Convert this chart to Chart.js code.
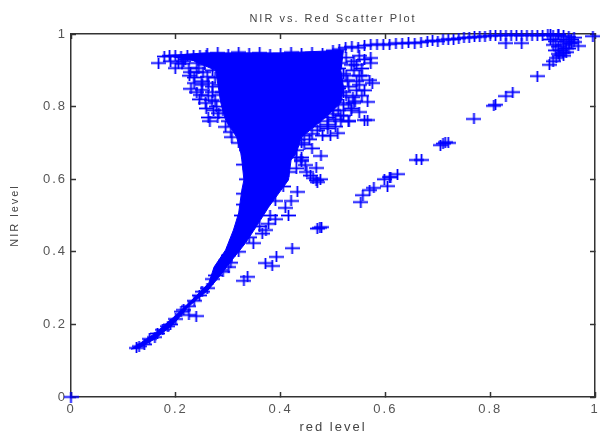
<!DOCTYPE html>
<html>
<head>
<meta charset="utf-8">
<title>NIR vs. Red Scatter Plot</title>
<script src="https://cdn.jsdelivr.net/npm/chart.js@4"></script>
<style>
  html, body { margin: 0; padding: 0; background: #fff; }
  #wrap { width: 600px; height: 432px; }
  canvas { filter: blur(0.35px); }
</style>
</head>
<body>
<div id="wrap"><canvas id="scatterChart" width="600" height="432"></canvas></div>
<script>
// outline of the region where the crosses merge into solid blue
const coreRed = [.178,.257,.30,.40,.52,.515,.52,.515,.48,.44,.43,.42,.415,.401,.377,.358,.333,.307,.282,.262,.225,.195,.16,.13,.115,.16,.2,.24,.263,.273,.295,.31,.32,.326,.33,.326,.324,.316,.295,.286,.276,.235];
const coreNir = [.94,.948,.948,.948,.955,.90,.854,.81,.763,.716,.672,.653,.598,.57,.523,.479,.424,.377,.33,.295,.25,.2,.16,.135,.132,.175,.225,.28,.314,.358,.405,.46,.507,.57,.598,.653,.672,.716,.763,.81,.90,.925];

const leftRed = [.167,.178,.188,.199,.21,.222,.234,.246,.258,.199,.212,.225,.244,.235,.25,.26,.229,.25,.248,.24,.257,.269,.286,.282,.295,.307,.272,.262,.24,.226,.215,.205,.19,.27,.278,.252,.265,.235,.25,.262,.27,.262,.275,.24,.255,.27,.275,.285,.29,.28,.29,.3,.305,.245,.258,.218,.228];
const leftNir = [.92,.938,.94,.94,.938,.94,.942,.94,.942,.906,.918,.906,.906,.865,.846,.882,.849,.87,.832,.84,.81,.818,.832,.782,.744,.716,.79,.77,.895,.885,.925,.92,.925,.855,.80,.895,.76,.88,.86,.865,.84,.83,.815,.92,.915,.90,.88,.86,.84,.77,.79,.76,.73,.82,.795,.93,.895];

const rightRed = [.509,.477,.468,.56,.538,.528,.54,.55,.52,.53,.51,.56,.572,.572,.57,.575,.566,.566,.55,.53,.515,.50,.49,.48,.455,.445,.47,.49,.51,.525,.545,.555,.56,.542,.535,.52,.505,.495,.46,.44,.43,.45,.462,.468,.47,.476,.457,.432,.439,.447,.409,.377,.372,.348,.301,.42,.415,.39,.365,.505,.515,.525,.54,.55,.555,.51,.52,.535,.545,.5,.515,.53,.545,.555,.51,.525,.54,.495,.505,.52,.535,.55,.5,.515,.53,.49,.505,.475,.49,.46,.445,.44,.43];
const rightNir = [.727,.664,.631,.763,.826,.873,.90,.885,.84,.81,.79,.93,.934,.92,.873,.865,.813,.763,.86,.76,.76,.78,.74,.72,.71,.695,.735,.77,.855,.885,.915,.905,.845,.815,.795,.775,.745,.72,.685,.66,.63,.62,.603,.597,.592,.60,.61,.565,.653,.639,.521,.477,.46,.424,.358,.54,.50,.49,.45,.935,.92,.935,.925,.94,.885,.905,.89,.915,.87,.875,.87,.855,.845,.83,.85,.83,.81,.835,.82,.805,.79,.785,.79,.775,.76,.76,.765,.745,.75,.725,.72,.65,.68];

const tailRed = [.125,.13,.14,.15,.16,.165,.175,.185,.19,.2,.21,.215,.225,.235,.245,.25,.26,.27,.275,.285,.295,.3,.31,.315,.325,.33,.335,.325,.33,.33,.335,.33,.335,.32,.29,.305,.32,.34,.36,.38,.39,.405,.415,.43,.44];
const tailNir = [.135,.14,.145,.16,.165,.175,.185,.195,.2,.215,.235,.24,.25,.265,.28,.29,.30,.325,.335,.35,.375,.39,.41,.43,.445,.47,.49,.50,.53,.56,.6,.64,.68,.70,.345,.37,.40,.44,.47,.50,.54,.58,.62,.66,.70];

const topRed = [.26,.28,.30,.32,.34,.36,.38,.40,.42,.44,.46,.48,.50,.512,.524,.536,.548,.56,.572,.584,.596,.608,.62,.632,.644,.656,.668,.68,.69,.70,.71,.72,.73,.74,.75,.76,.77,.78,.79,.80,.81,.82,.83,.84,.85,.86,.87,.88,.89,.90,.83,.86,.915,.93];
const topNir = [.945,.948,.943,.95,.945,.948,.943,.945,.95,.945,.948,.945,.955,.958,.962,.965,.962,.968,.97,.972,.97,.972,.975,.974,.976,.975,.977,.98,.982,.98,.984,.986,.985,.988,.99,.99,.992,.992,.994,.995,.996,.996,.997,.997,.997,.996,.997,.997,.996,.997,.975,.975,.998,.998];

const cornerRed = [.913,.92,.926,.932,.939,.945,.951,.968,.996,.91,.92,.93,.94,.95,.96,.915,.925,.935,.945,.955,.92,.93,.94,.95,.925,.935,.945,.93,.94,.955,.96];
const cornerNir = [.915,.925,.934,.94,.948,.96,.975,.967,.994,.998,.995,.998,.995,.992,.99,.985,.98,.985,.98,.975,.97,.965,.97,.96,.955,.955,.95,.945,.94,.985,.978];

const diagRed = [.89,.843,.83,.807,.81,.769,.714,.705,.72,.71,.659,.669,.623,.61,.598,.608,.604,.578,.57,.557,.553,.475,.47,.478,.422,.392,.371,.384,.337,.33,.225,.239];
const diagNir = [.884,.84,.829,.802,.805,.766,.702,.694,.70,.698,.653,.653,.614,.606,.6,.606,.581,.576,.57,.556,.537,.466,.464,.468,.41,.386,.369,.361,.331,.32,.226,.223];

const originRed = [0];
const originNir = [0];

const xTicks = [0, .2, .4, .6, .8, 1];
const yTicks = [0, .2, .4, .6, .8, 1];

function toPoints(reds, nirs) {
  return reds.map((r, i) => ({ x: r, y: nirs[i] }));
}

// the + marker is wider than tall in the reference
function makeCross() {
  const c = document.createElement("canvas");
  c.width = 15;
  c.height = 11;
  const g = c.getContext("2d");
  g.fillStyle = "#0000ff";
  g.fillRect(0, 4.6, 15, 1.8);
  g.fillRect(6.6, 0, 1.8, 11);
  return c;
}

const cross = makeCross();
const allRed = [].concat(leftRed, rightRed, tailRed, topRed, cornerRed, diagRed, originRed);
const allNir = [].concat(leftNir, rightNir, tailNir, topNir, cornerNir, diagNir, originNir);

const spacing = {
  id: "spacing",
  beforeDraw(chart) { chart.ctx.letterSpacing = "2px"; }
};

function tickOpts(list) {
  return {
    min: 0, max: 1,
    afterBuildTicks(s) { s.ticks = list.map(v => ({ value: v })); }
  };
}

// the axis would otherwise pull the plot in to make room for its end labels
function noMargins(s) {
  s.paddingLeft = 0;
  s.paddingRight = 0;
  s.paddingTop = 0;
  s.paddingBottom = 0;
}

const tickFont = { family: "Liberation Sans", size: 13 };
const axisBorder = { color: "#333", width: 1.5 };
const axisGrid = { drawOnChartArea: false, tickLength: -5, color: "#333", tickWidth: 1.5 };

new Chart(document.getElementById("scatterChart"), {
  type: "scatter",
  data: {
    datasets: [
      {
        label: "NIR vs. Red",
        data: toPoints(allRed, allNir),
        pointStyle: cross,
        backgroundColor: "#0000ff",
        borderColor: "#0000ff",
        clip: false
      },
      {
        label: "dense core",
        data: toPoints(coreRed, coreNir),
        showLine: true,
        fill: "shape",
        tension: 0,
        pointRadius: 0,
        borderWidth: 1,
        borderColor: "#0000ff",
        backgroundColor: "#0000ff"
      }
    ]
  },
  plugins: [spacing],
  options: {
    responsive: false,
    animation: false,
    layout: { padding: { right: -6 } },
    plugins: {
      legend: { display: false },
      tooltip: { enabled: false },
      title: {
        display: true,
        fullSize: false,
        text: "NIR vs. Red Scatter Plot",
        color: "#444",
        font: { family: "Liberation Sans", size: 11, weight: "normal" },
        padding: { top: 12, bottom: 8.8 }
      }
    },
    scales: {
      x: {
        ...tickOpts(xTicks),
        position: "bottom",
        afterFit(s) { s.height = 35; noMargins(s); },
        border: axisBorder,
        grid: axisGrid,
        ticks: { color: "#555", padding: 10, maxRotation: 0, font: tickFont, callback: v => String(v) },
        title: { display: true, text: "red level", color: "#444", padding: { top: 0, bottom: -3 }, font: tickFont }
      },
      y: {
        ...tickOpts(yTicks),
        position: "left",
        afterFit(s) { s.width = 71; noMargins(s); },
        border: axisBorder,
        grid: axisGrid,
        ticks: { color: "#555", padding: 9, font: tickFont, callback: v => String(v) },
        title: { display: true, text: "NIR level", color: "#444", padding: { top: 8, bottom: 0 }, font: { family: "Liberation Sans", size: 11 } }
      },
      x2: {
        ...tickOpts(xTicks),
        position: "top",
        afterFit(s) { s.height = 0; noMargins(s); },
        border: axisBorder,
        grid: axisGrid,
        ticks: { display: false }
      },
      y2: {
        ...tickOpts(yTicks),
        position: "right",
        afterFit(s) { s.width = 0; noMargins(s); },
        border: axisBorder,
        grid: axisGrid,
        ticks: { display: false }
      }
    }
  }
});
</script>
</body>
</html>
